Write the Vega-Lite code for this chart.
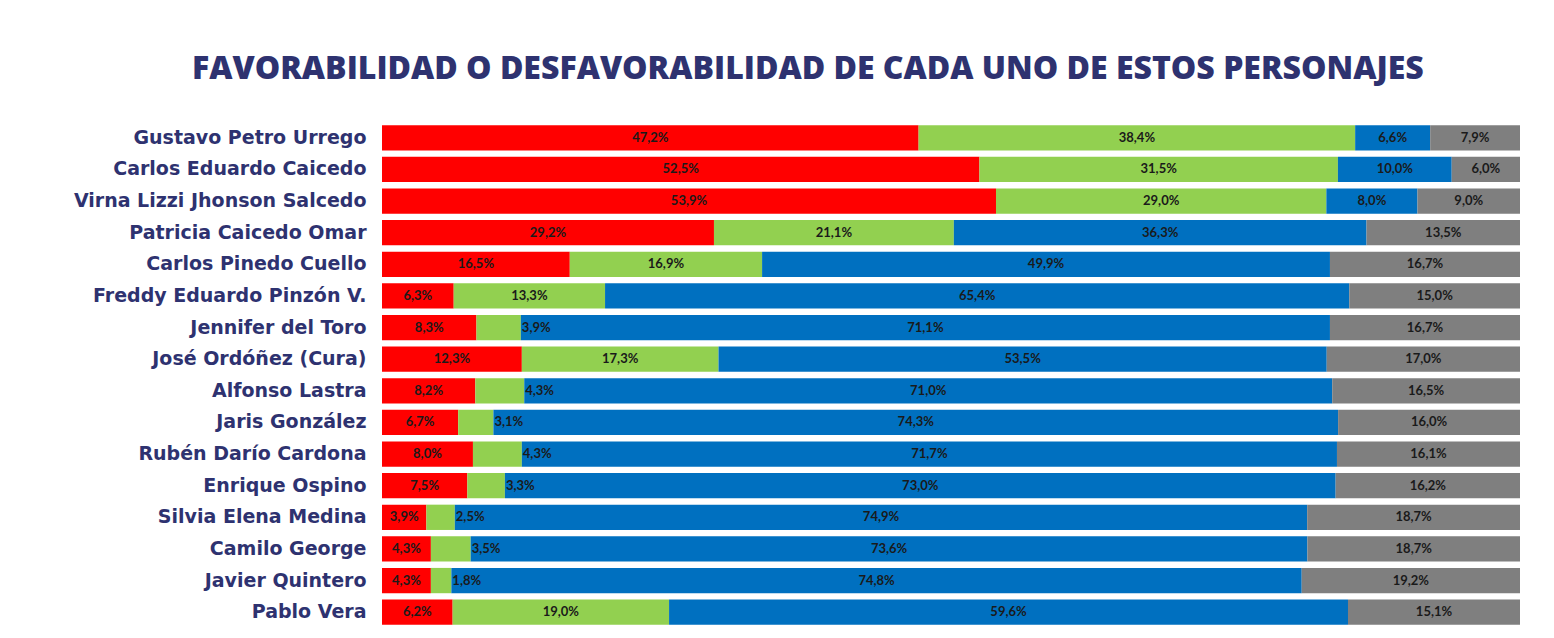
{
  "$schema": "https://vega.github.io/schema/vega-lite/v6.json",
  "width": 1138,
  "height": 506,
  "autosize": "none",
  "padding": {"left": 382, "top": 122, "right": 34, "bottom": 10},
  "background": "white",
  "view": {"stroke": null},
  "title": {
    "text": "FAVORABILIDAD O DESFAVORABILIDAD DE CADA UNO DE ESTOS PERSONAJES",
    "anchor": "start",
    "frame": "group",
    "dx": -190,
    "offset": 36,
    "fontSize": 32,
    "font": "Open Sans",
    "fontWeight": 800,
    "color": "#2E3270"
  },
  "data": {
    "values": [
      {"p": "Gustavo Petro Urrego", "Desfavorable": 47.2, "Favorable": 38.4, "No lo conoce": 6.6, "Ns/Nr": 7.9},
      {"p": "Carlos Eduardo Caicedo", "Desfavorable": 52.5, "Favorable": 31.5, "No lo conoce": 10.0, "Ns/Nr": 6.0},
      {"p": "Virna Lizzi Jhonson Salcedo", "Desfavorable": 53.9, "Favorable": 29.0, "No lo conoce": 8.0, "Ns/Nr": 9.0},
      {"p": "Patricia Caicedo Omar", "Desfavorable": 29.2, "Favorable": 21.1, "No lo conoce": 36.3, "Ns/Nr": 13.5},
      {"p": "Carlos Pinedo Cuello", "Desfavorable": 16.5, "Favorable": 16.9, "No lo conoce": 49.9, "Ns/Nr": 16.7},
      {"p": "Freddy Eduardo Pinzón V.", "Desfavorable": 6.3, "Favorable": 13.3, "No lo conoce": 65.4, "Ns/Nr": 15.0},
      {"p": "Jennifer del Toro", "Desfavorable": 8.3, "Favorable": 3.9, "No lo conoce": 71.1, "Ns/Nr": 16.7},
      {"p": "José Ordóñez (Cura)", "Desfavorable": 12.3, "Favorable": 17.3, "No lo conoce": 53.5, "Ns/Nr": 17.0},
      {"p": "Alfonso Lastra", "Desfavorable": 8.2, "Favorable": 4.3, "No lo conoce": 71.0, "Ns/Nr": 16.5},
      {"p": "Jaris González", "Desfavorable": 6.7, "Favorable": 3.1, "No lo conoce": 74.3, "Ns/Nr": 16.0},
      {"p": "Rubén Darío Cardona", "Desfavorable": 8.0, "Favorable": 4.3, "No lo conoce": 71.7, "Ns/Nr": 16.1},
      {"p": "Enrique Ospino", "Desfavorable": 7.5, "Favorable": 3.3, "No lo conoce": 73.0, "Ns/Nr": 16.2},
      {"p": "Silvia Elena Medina", "Desfavorable": 3.9, "Favorable": 2.5, "No lo conoce": 74.9, "Ns/Nr": 18.7},
      {"p": "Camilo George", "Desfavorable": 4.3, "Favorable": 3.5, "No lo conoce": 73.6, "Ns/Nr": 18.7},
      {"p": "Javier Quintero", "Desfavorable": 4.3, "Favorable": 1.8, "No lo conoce": 74.8, "Ns/Nr": 19.2},
      {"p": "Pablo Vera", "Desfavorable": 6.2, "Favorable": 19.0, "No lo conoce": 59.6, "Ns/Nr": 15.1}
    ]
  },
  "transform": [
    {"fold": ["Desfavorable", "Favorable", "No lo conoce", "Ns/Nr"], "as": ["cat", "v"]},
    {"calculate": "indexof(['Desfavorable','Favorable','No lo conoce','Ns/Nr'], datum.cat)", "as": "k"},
    {"stack": "v", "groupby": ["p"], "sort": [{"field": "k", "order": "ascending"}], "offset": "normalize", "as": ["x0", "x1"]},
    {"calculate": "(datum.x0 + datum.x1) / 2", "as": "xm"},
    {"calculate": "replace(format(datum.v, '.1f'), '.', ',') + '%'", "as": "lbl"}
  ],
  "encoding": {
    "y": {
      "field": "p",
      "type": "nominal",
      "sort": ["Gustavo Petro Urrego", "Carlos Eduardo Caicedo", "Virna Lizzi Jhonson Salcedo", "Patricia Caicedo Omar", "Carlos Pinedo Cuello", "Freddy Eduardo Pinzón V.", "Jennifer del Toro", "José Ordóñez (Cura)", "Alfonso Lastra", "Jaris González", "Rubén Darío Cardona", "Enrique Ospino", "Silvia Elena Medina", "Camilo George", "Javier Quintero", "Pablo Vera"],
      "title": null,
      "scale": {"paddingInner": 0.2, "paddingOuter": 0.1},
      "axis": {
        "domain": false,
        "ticks": false,
        "labelPadding": 16,
        "labelFont": "DejaVu Sans",
        "labelFontWeight": "bold",
        "labelFontSize": 19,
        "labelColor": "#2E3270",
        "labelLimit": 400
      }
    }
  },
  "layer": [
    {
      "mark": {"type": "bar"},
      "encoding": {
        "x": {"field": "x0", "type": "quantitative", "scale": {"domain": [0, 1]}, "axis": null},
        "x2": {"field": "x1"},
        "color": {
          "field": "cat",
          "type": "nominal",
          "scale": {"domain": ["Desfavorable", "Favorable", "No lo conoce", "Ns/Nr"], "range": ["#FF0000", "#92D050", "#0070C0", "#7F7F7F"]},
          "legend": null
        }
      }
    },
    {
      "transform": [{"filter": "!(datum.cat == 'Favorable' && datum.v < 5)"}],
      "mark": {"type": "text", "font": "Lato", "fontWeight": "bold", "fontSize": 13, "color": "#1A1A1A"},
      "encoding": {
        "x": {"field": "xm", "type": "quantitative"},
        "text": {"field": "lbl"}
      }
    },
    {
      "transform": [{"filter": "datum.cat == 'Favorable' && datum.v < 5"}],
      "mark": {"type": "text", "align": "left", "dx": 1, "font": "Lato", "fontWeight": "bold", "fontSize": 13, "color": "#1A1A1A"},
      "encoding": {
        "x": {"field": "x1", "type": "quantitative"},
        "text": {"field": "lbl"}
      }
    }
  ]
}
